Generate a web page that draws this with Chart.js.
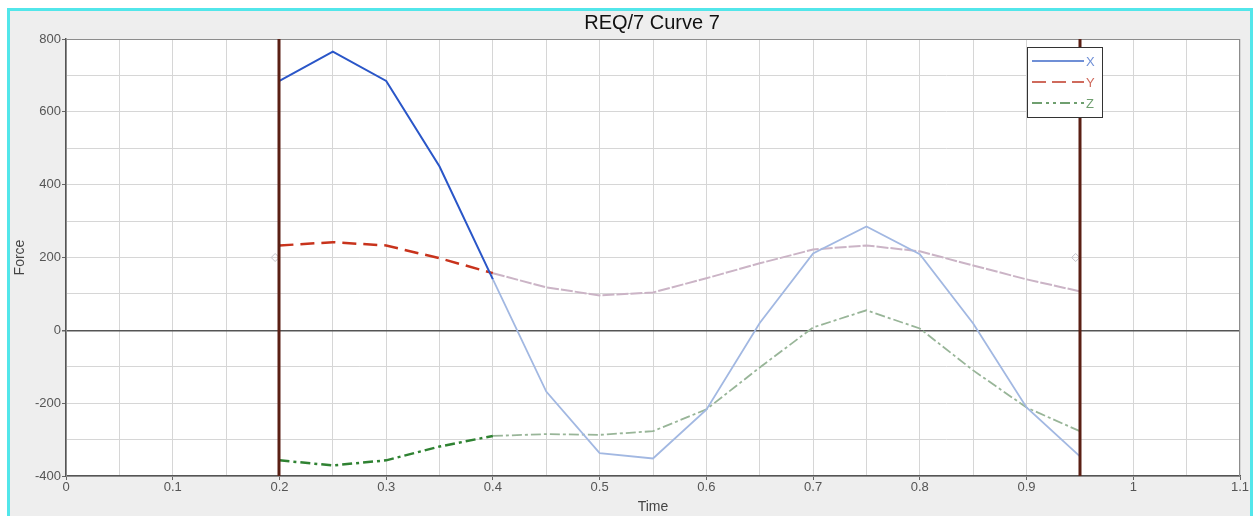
<!DOCTYPE html>
<html>
<head>
<meta charset="utf-8">
<title>REQ/7 Curve 7</title>
<script src="https://cdn.jsdelivr.net/npm/chart.js"></script>
<style>
    body { margin: 0; background: #ffffff; }
    #frame { position: absolute; left: 7px; top: 8px; width: 1240px; height: 508px; border: 3px solid #52e6ea; border-bottom: none; background: #eeeeee; }
    #chart { position: absolute; left: 0; top: 0; }
</style>
</head>
<body>
<div id="frame"></div>
<canvas id="chart" width="1259" height="516"></canvas>
<script>
// data
const times = [0.2, 0.25, 0.3, 0.35, 0.4, 0.45, 0.5, 0.55, 0.6, 0.65, 0.7, 0.75, 0.8, 0.85, 0.9, 0.95];
const forceX = [685, 765, 685, 450, 140, -168, -337, -352, -218, 20, 211, 285, 209, 19, -212, -346];
const forceY = [233, 242, 233, 198, 157, 118, 96, 104, 143, 184, 222, 233, 217, 178, 140, 107];
const forceZ = [-357, -371, -357, -319, -290, -285, -287, -277, -217, -102, 8, 55, 5, -110, -212, -277];
const markerTimes = [0.2, 0.95];
const markerLevel = [200, 200];
const seriesNames = ['X', 'Y', 'Z'];

const fadeFrom = 0.4;

function pts(ys) {
    return times.map((t, i) => ({ x: t, y: ys[i] }));
}

function faded(ctx) {
    return ctx.p0.parsed.x >= fadeFrom - 1e-9;
}

function segStyle(dark, pale, darkW, paleW, darkDash, paleDash) {
    return {
        borderColor: ctx => (faded(ctx) ? pale : dark),
        borderWidth: ctx => (faded(ctx) ? paleW : darkW),
        borderDash: ctx => (faded(ctx) ? paleDash : darkDash)
    };
}

// vertical cursor lines, plot frame, title and legend
const extras = {
    id: 'extras',
    beforeDraw(chart) {
        const c = chart.ctx, a = chart.chartArea;
        c.save();
        c.fillStyle = '#ffffff';
        c.fillRect(a.left, a.top, a.right - a.left, a.bottom - a.top);
        c.restore();
    },
    beforeDatasetsDraw(chart) {
        const c = chart.ctx, a = chart.chartArea;
        c.save();
        c.strokeStyle = '#8c8c8c';
        c.lineWidth = 1;
        c.strokeRect(a.left + 0.5, a.top + 0.5, a.right - a.left - 1, a.bottom - a.top);
        c.restore();
    },
    afterDatasetsDraw(chart) {
        const c = chart.ctx, a = chart.chartArea, xs = chart.scales.x;
        c.save();
        c.strokeStyle = '#5a1f14';
        c.lineWidth = 3;
        markerTimes.forEach(t => {
            const px = Math.round(xs.getPixelForValue(t));
            c.beginPath();
            c.moveTo(px, a.top);
            c.lineTo(px, a.bottom);
            c.stroke();
        });
        c.restore();
    },
    afterDraw(chart) {
        const c = chart.ctx;
        c.save();
        c.fillStyle = '#111';
        c.font = '20px "Liberation Sans", Arial, sans-serif';
        c.textAlign = 'center';
        c.textBaseline = 'middle';
        c.fillText('REQ/7 Curve 7', 652, 23);

        // legend box
        const bx = 1027, by = 47, bw = 75, bh = 70;
        c.fillStyle = '#ffffff';
        c.fillRect(bx, by, bw, bh);
        c.strokeStyle = '#333';
        c.lineWidth = 1;
        c.strokeRect(bx + 0.5, by + 0.5, bw, bh);
        const cols = ['#6f8fd6', '#cf6a5c', '#6f9f6f'];
        const dashes = [[], [14, 6], [10, 4, 3, 4, 3, 4]];
        c.font = '13px "Liberation Sans", Arial, sans-serif';
        c.textAlign = 'left';
        seriesNames.forEach((n, i) => {
            const y = by + 14 + i * 21;
            c.strokeStyle = cols[i];
            c.lineWidth = 2;
            c.setLineDash(dashes[i]);
            c.beginPath();
            c.moveTo(bx + 5, y);
            c.lineTo(bx + 57, y);
            c.stroke();
            c.setLineDash([]);
            c.fillStyle = cols[i];
            c.fillText(n, bx + 59, y + 1);
        });
        c.restore();
    }
};

const tickFont = { family: '"Liberation Sans", Arial, sans-serif', size: 13 };

new Chart(document.getElementById('chart'), {
    type: 'line',
    data: {
        datasets: [
            {
                label: seriesNames[0],
                data: pts(forceX),
                borderColor: '#2a56c8',
                borderWidth: 2,
                pointRadius: 0,
                segment: segStyle('#2a56c8', '#a2b8e2', 2, 1.8, [], [])
            },
            {
                label: seriesNames[1],
                data: pts(forceY),
                borderColor: '#c8331c',
                borderWidth: 2.5,
                pointRadius: 0,
                segment: segStyle('#c8331c', '#cbb4c6', 2.5, 2, [14, 7], [12, 2])
            },
            {
                label: seriesNames[2],
                data: pts(forceZ),
                borderColor: '#2f8232',
                borderWidth: 2.5,
                pointRadius: 0,
                segment: segStyle('#2f8232', '#98b598', 2.5, 1.8, [10, 4, 3, 4], [10, 3, 3, 3])
            },
            {
                label: 'marker',
                data: markerTimes.map((t, i) => ({ x: t - 0.004, y: markerLevel[i] })),
                showLine: false,
                pointStyle: 'rectRot',
                pointRadius: 4,
                borderColor: '#c4c4cc',
                backgroundColor: 'rgba(0,0,0,0)',
                borderWidth: 1
            }
        ]
    },
    options: {
        responsive: false,
        animation: false,
        layout: { padding: { left: 0, right: 19, top: 39, bottom: 0 } },
        plugins: { legend: { display: false }, tooltip: { enabled: false }, title: { display: false } },
        scales: {
            x: {
                type: 'linear',
                min: 0,
                max: 1.1,
                afterFit(s) { s.height = 40; },
                afterBuildTicks(s) {
                    const t = [];
                    for (let i = 0; i <= 22; i++) t.push({ value: i * 0.05 });
                    s.ticks = t;
                },
                ticks: {
                    autoSkip: false,
                    maxRotation: 0,
                    color: '#555',
                    font: tickFont,
                    padding: 0,
                    callback: v => {
                        const k = Math.round(v * 100);
                        return k % 10 === 0 ? String(k / 100) : '';
                    }
                },
                grid: {
                    color: '#d6d6d6',
                    tickLength: 4,
                    tickColor: ctx => (ctx.tick && Math.round(ctx.tick.value * 100) % 10 === 0 ? '#666' : 'rgba(0,0,0,0)')
                },
                border: { color: '#555', width: 1.5 },
                title: { display: true, text: 'Time', color: '#444', font: { family: tickFont.family, size: 14 }, padding: 0 }
            },
            y: {
                min: -400,
                max: 800,
                afterFit(s) { s.width = 66; },
                ticks: {
                    stepSize: 100,
                    autoSkip: false,
                    color: '#555',
                    font: tickFont,
                    padding: 1,
                    callback: v => (v % 200 === 0 ? String(v) : '')
                },
                grid: {
                    color: ctx => (ctx.tick && ctx.tick.value === 0 ? '#555' : '#d6d6d6'),
                    lineWidth: ctx => (ctx.tick && ctx.tick.value === 0 ? 1.5 : 1),
                    tickLength: 4,
                    tickColor: ctx => (ctx.tick && ctx.tick.value % 200 === 0 ? '#666' : 'rgba(0,0,0,0)')
                },
                border: { color: '#555', width: 1.5 },
                title: { display: true, text: 'Force', color: '#444', font: { family: tickFont.family, size: 14 }, padding: { top: 12, bottom: 0 } }
            }
        }
    },
    plugins: [extras]
});
</script>
</body>
</html>
